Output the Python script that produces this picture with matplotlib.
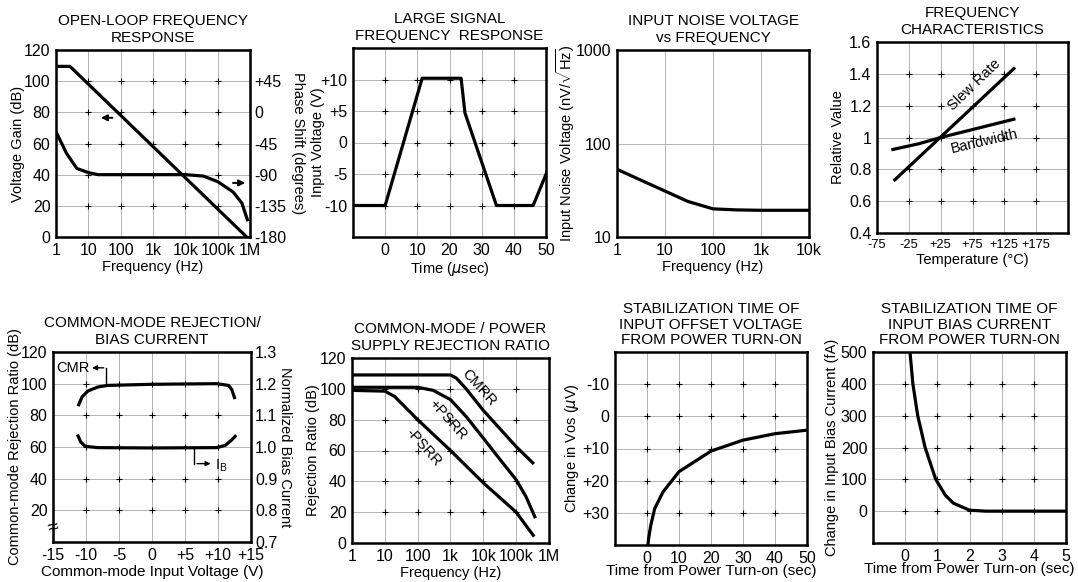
import matplotlib
matplotlib.use("Agg")
import matplotlib.pyplot as plt
import numpy as np

plt.rcParams['font.family'] = ['Liberation Sans', 'DejaVu Sans']
plt.rcParams['mathtext.fontset'] = 'custom'
plt.rcParams['mathtext.rm'] = 'Liberation Sans'

W, H = 1078, 582

# ---- data ----
# open-loop frequency response
gain_f = [1, 2.7, 790000]
gain_db = [109.5, 109.5, 0]
phase_f = [1, 2.1, 4.4, 10, 20, 10000, 36000, 100000, 300000, 560000, 830000]
phase_deg = [-28, -59, -81, -87, -90, -90, -92, -100, -115, -131, -155]

# large signal response
ls_t = [-10, 0, 11.5, 23.6, 24.8, 34.6, 46, 50.2]
ls_v = [-10, -10, 10.2, 10.2, 4.7, -10, -10, -4.8]

# input noise voltage
noise_f = [1, 3, 10, 30, 100, 300, 1000, 10000]
noise_v = [53, 41, 31, 24, 20, 19.5, 19.3, 19.3]

# frequency characteristics
slew_t = [-47, 140]
slew_v = [0.734, 1.433]
bw_t = [-50, -10, 25, 75, 140]
bw_v = [0.925, 0.96, 1.0, 1.05, 1.115]

# CMR / bias current
cmr_v = [-11.1, -10.6, -9.7, -8.2, -6.7, 0, 9.8, 11.6, 12.1, 12.5]
cmr_db = [86.7, 91.6, 95.4, 97.9, 98.9, 99.6, 100, 98.9, 96.2, 91.2]
ib_v = [-11.2, -10.8, -10.1, -8.2, 0, 9.8, 11.1, 12.0, 12.6]
ib_norm = [1.035, 1.016, 1.002, 0.998, 0.997, 0.998, 1.005, 1.021, 1.0335]

# CMRR / PSRR
cmrr_f = [1, 1000, 1500, 3000, 10000, 100000, 320000]
cmrr_db = [109, 109, 107, 100, 86, 62.5, 52]
ppsrr_f = [1, 100, 300, 1000, 3000, 10000, 30000, 100000, 200000, 370000]
ppsrr_db = [101, 101, 99, 93, 82, 68, 55, 41, 30, 17]
npsrr_f = [1, 10, 20, 100, 1000, 10000, 100000, 330000]
npsrr_db = [99, 98.5, 95, 80, 60, 39, 20, 5]

# Vos stabilization
vos_t = [0.3, 0.5, 1.15, 2.4, 5, 10, 20, 30, 40, 50]
vos_uv = [40, 38, 34, 28.7, 23.5, 17.2, 10.8, 7.4, 5.4, 4.3]

# Ib stabilization
ibs_t = [0.15, 0.24, 0.39, 0.62, 0.95, 1.25, 1.5, 2, 2.5, 5]
ibs_fa = [500, 400, 300, 200, 100, 50, 25, 3, 0, 0]

LOG_TICKS = [1, 10, 100, 1000, 10000, 100000, 1000000]
LOG_LABELS = ['1', '10', '100', '1k', '10k', '100k', '1M']

LW = 2.3
FS = 10.5     # axis labels
TFS = 11      # titles
TKS = 11.5    # tick labels


def make_ax(l, t, r, b):
    return fig.add_axes([l / W, 1 - b / H, (r - l) / W, (b - t) / H])


def side_label(text, x, t, b, rot=90):
    # vertical axis label centred at pixel column x, alongside an axes spanning t..b
    fig.text(x / W, 1 - (t + b) / 2 / H, text, rotation=rot, ha='center',
             va='center', fontsize=FS)


def style(ax, xgrid, ygrid, plus=True):
    for s in ax.spines.values():
        s.set_linewidth(1.8)
    ax.tick_params(length=0, labelsize=TKS, pad=4)
    for x in xgrid:
        ax.axvline(x, color='#a8a8a8', lw=0.6, zorder=0)
    for y in ygrid:
        ax.axhline(y, color='#a8a8a8', lw=0.6, zorder=0)
    if plus:
        X, Y = np.meshgrid(xgrid, ygrid)
        ax.plot(X.ravel(), Y.ravel(), '+', color='k', ms=4, mew=0.8, zorder=1)


fig = plt.figure(figsize=(W / 100, H / 100), dpi=100)

# ---------- 1: open-loop frequency response ----------
ax = make_ax(56, 50, 250, 237)
ax.set_xscale('log')
ax.set_xlim(1, 1e6)
ax.set_ylim(0, 120)
ax.set_xticks(LOG_TICKS)
ax.set_xticklabels(LOG_LABELS)
ax.minorticks_off()
ax.set_yticks([0, 20, 40, 60, 80, 100, 120])
style(ax, LOG_TICKS[1:-1], [20, 40, 60, 80, 100])
ax.plot(gain_f, gain_db, color='k', lw=LW)
ax.annotate('', xy=(20, 76.5), xytext=(68, 76.5),
            arrowprops=dict(arrowstyle='-|>', color='k', lw=1.4, mutation_scale=9))
ax.annotate('', xy=(870000, 34.7), xytext=(245000, 34.7),
            arrowprops=dict(arrowstyle='-|>', color='k', lw=1.4, mutation_scale=9),
            annotation_clip=False)
ax.set_xlabel('Frequency (Hz)', fontsize=FS, labelpad=2)
ax.set_title('OPEN-LOOP FREQUENCY\nRESPONSE', fontsize=TFS, pad=6)
ax2 = ax.twinx()
ax2.set_ylim(-180, 90)
ax2.set_yticks([-180, -135, -90, -45, 0, 45])
ax2.set_yticklabels(['-180', '-135', '-90', '-45', '0', '+45'])
ax2.tick_params(length=0, labelsize=TKS, pad=3)
ax2.plot(phase_f, phase_deg, color='k', lw=LW)
side_label('Voltage Gain (dB)', 18, 50, 237)
side_label('Phase Shift (degrees)', 298, 50, 237, rot=270)

# ---------- 2: large signal frequency response ----------
ax = make_ax(353, 48, 546, 237)
ax.set_xlim(-10, 50)
ax.set_ylim(-15, 15)
ax.set_xticks([0, 10, 20, 30, 40, 50])
ax.set_yticks([-10, -5, 0, 5, 10])
ax.set_yticklabels(['-10', '-5', '0', '+5', '+10'])
style(ax, [0, 10, 20, 30, 40], [-10, -5, 0, 5, 10])
ax.plot(ls_t, ls_v, color='k', lw=LW)
ax.set_xlabel('Time ($\\mu$sec)', fontsize=FS, labelpad=2)
ax.set_title('LARGE SIGNAL\nFREQUENCY  RESPONSE', fontsize=TFS, pad=6)
side_label('Input Voltage (V)', 318, 48, 237)

# ---------- 3: input noise voltage ----------
ax = make_ax(617, 50, 809, 237)
ax.set_xscale('log')
ax.set_yscale('log')
ax.set_xlim(1, 10000)
ax.set_ylim(10, 1000)
ax.set_xticks(LOG_TICKS[:5])
ax.set_xticklabels(LOG_LABELS[:5])
ax.set_yticks([10, 100, 1000])
ax.set_yticklabels(['10', '100', '1000'])
ax.minorticks_off()
style(ax, [10, 100, 1000], [100], plus=False)
ax.plot(noise_f, noise_v, color='k', lw=LW)
ax.set_xlabel('Frequency (Hz)', fontsize=FS, labelpad=2)
ax.set_title('INPUT NOISE VOLTAGE\nvs FREQUENCY', fontsize=TFS, pad=6)
side_label('Input Noise Voltage (nV/$\\sqrt{\\mathrm{Hz}}$)', 566, 50, 237)

# ---------- 4: frequency characteristics ----------
ax = make_ax(877, 42, 1068, 233)
ax.set_xlim(-75, 225)
ax.set_ylim(0.4, 1.6)
ax.set_xticks([-75, -25, 25, 75, 125, 175])
ax.set_xticklabels(['-75', '-25', '+25', '+75', '+125', '+175'])
ax.set_yticks([0.4, 0.6, 0.8, 1.0, 1.2, 1.4, 1.6])
ax.set_yticklabels(['0.4', '0.6', '0.8', '1', '1.2', '1.4', '1.6'])
style(ax, [-25, 25, 75, 125, 175], [0.6, 0.8, 1.0, 1.2, 1.4])
ax.tick_params(axis='x', labelsize=9.3)
ax.plot(slew_t, slew_v, color='k', lw=LW)
ax.plot(bw_t, bw_v, color='k', lw=LW)
ax.text(78, 1.33, 'Slew Rate', rotation=44, ha='center', va='center', fontsize=FS)
ax.text(93, 0.975, 'Bandwidth', rotation=13, ha='center', va='center', fontsize=FS)
ax.set_xlabel('Temperature (°C)', fontsize=FS, labelpad=2)
ax.set_title('FREQUENCY\nCHARACTERISTICS', fontsize=TFS, pad=6)
side_label('Relative Value', 838, 42, 233)

# ---------- 5: CMR / bias current ----------
ax = make_ax(53, 352, 251, 542)
ax.set_xlim(-15, 15)
ax.set_ylim(0, 120)
ax.set_xticks([-15, -10, -5, 0, 5, 10, 15])
ax.set_xticklabels(['-15', '-10', '-5', '0', '+5', '+10', '+15'])
ax.set_yticks([20, 40, 60, 80, 100, 120])
style(ax, [-10, -5, 0, 5, 10], [20, 40, 60, 80, 100])
ax.plot(cmr_v, cmr_db, color='k', lw=LW)
ax.plot([-6.9, -6.9], [99.3, 110], color='k', lw=1)
ax.annotate('', xy=(-9.5, 110), xytext=(-6.9, 110),
            arrowprops=dict(arrowstyle='-|>', color='k', lw=1, mutation_scale=7))
ax.text(-12, 110, 'CMR', ha='center', va='center', fontsize=FS)
ax.plot([6.4, 6.4], [59.4, 49.5], color='k', lw=1)
ax.annotate('', xy=(9.3, 49.5), xytext=(6.4, 49.5),
            arrowprops=dict(arrowstyle='-|>', color='k', lw=1, mutation_scale=7))
ax.text(9.6, 48.5, 'I$_\\mathrm{B}$', ha='left', va='center', fontsize=FS)
ax.text(-15, 9, '≈', rotation=15, ha='center', va='center', fontsize=14,
        clip_on=False)
ax.set_xlabel('Common-mode Input Voltage (V)', fontsize=11, labelpad=2)
ax.set_title('COMMON-MODE REJECTION/\nBIAS CURRENT', fontsize=TFS, pad=6)
ax2 = ax.twinx()
ax2.set_ylim(0.7, 1.3)
ax2.set_yticks([0.7, 0.8, 0.9, 1.0, 1.1, 1.2, 1.3])
ax2.set_yticklabels(['0.7', '0.8', '0.9', '1.0', '1.1', '1.2', '1.3'])
ax2.tick_params(length=0, labelsize=TKS, pad=3)
ax2.plot(ib_v, ib_norm, color='k', lw=LW)
side_label('Common-mode Rejection Ratio (dB)', 15, 352, 542)
side_label('Normalized Bias Current', 285, 352, 542, rot=270)

# ---------- 6: CMRR / PSRR ----------
ax = make_ax(352, 358, 549, 543)
ax.set_xscale('log')
ax.set_xlim(1, 1e6)
ax.set_ylim(0, 120)
ax.set_xticks(LOG_TICKS)
ax.set_xticklabels(LOG_LABELS)
ax.minorticks_off()
ax.set_yticks([0, 20, 40, 60, 80, 100, 120])
style(ax, LOG_TICKS[1:-1], [20, 40, 60, 80, 100])
ax.plot(cmrr_f, cmrr_db, color='k', lw=LW)
ax.plot(ppsrr_f, ppsrr_db, color='k', lw=LW)
ax.plot(npsrr_f, npsrr_db, color='k', lw=LW)
ax.text(7500, 101, 'CMRR', rotation=-48, ha='center', va='center', fontsize=FS)
ax.text(840, 80, '+PSRR', rotation=-48, ha='center', va='center', fontsize=FS)
ax.text(150, 62, '-PSRR', rotation=-48, ha='center', va='center', fontsize=FS)
ax.set_xlabel('Frequency (Hz)', fontsize=FS, labelpad=2)
ax.set_title('COMMON-MODE / POWER\nSUPPLY REJECTION RATIO', fontsize=TFS, pad=6)
side_label('Rejection Ratio (dB)', 313, 358, 543)

# ---------- 7: Vos stabilization ----------
ax = make_ax(615, 352, 807, 545)
ax.set_xlim(-10, 50)
ax.set_ylim(40, -20)
ax.set_xticks([0, 10, 20, 30, 40, 50])
ax.set_yticks([-10, 0, 10, 20, 30])
ax.set_yticklabels(['-10', '0', '+10', '+20', '+30'])
style(ax, [0, 10, 20, 30, 40], [-10, 0, 10, 20, 30])
ax.plot(vos_t, vos_uv, color='k', lw=LW)
ax.set_xlabel('Time from Power Turn-on (sec)', fontsize=11, labelpad=-1)
ax.set_title('STABILIZATION TIME OF\nINPUT OFFSET VOLTAGE\nFROM POWER TURN-ON',
             fontsize=TFS, pad=6, linespacing=1.1)
side_label('Change in Vos ($\\mu$V)', 572, 352, 545)

# ---------- 8: Ib stabilization ----------
ax = make_ax(873, 352, 1066, 543)
ax.set_xlim(-1, 5)
ax.set_ylim(-100, 500)
ax.set_xticks([0, 1, 2, 3, 4, 5])
ax.set_yticks([0, 100, 200, 300, 400, 500])
style(ax, [0, 1, 2, 3, 4], [0, 100, 200, 300, 400])
ax.plot(ibs_t, ibs_fa, color='k', lw=LW)
ax.set_xlabel('Time from Power Turn-on (sec)', fontsize=11, labelpad=-1)
ax.set_title('STABILIZATION TIME OF\nINPUT BIAS CURRENT\nFROM POWER TURN-ON',
             fontsize=TFS, pad=6, linespacing=1.1)
side_label('Change in Input Bias Current (fA)', 832, 352, 543)

fig.savefig('out.png', dpi=100)
